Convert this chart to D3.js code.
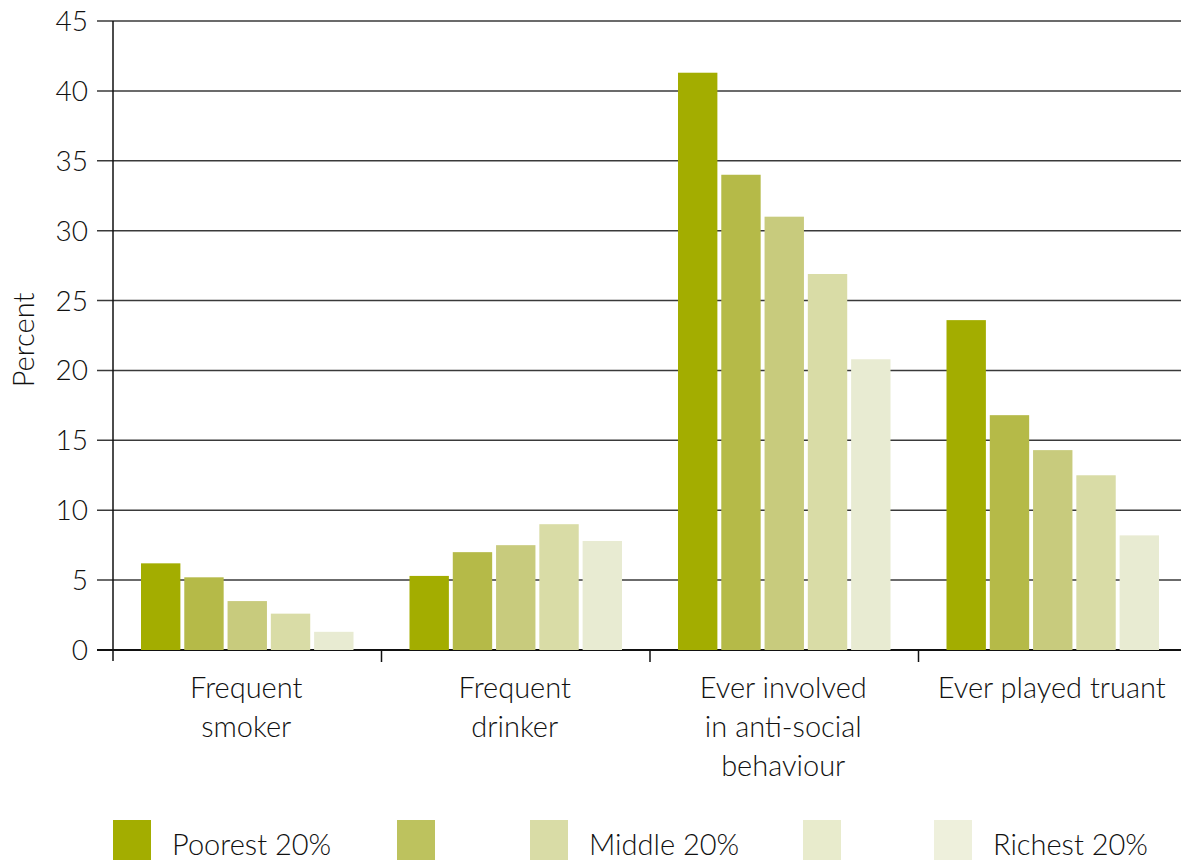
<!DOCTYPE html>
<html>
<head>
<meta charset="utf-8">
<script src="https://cdn.jsdelivr.net/npm/d3@7"></script>
<style>
  body { margin: 0; background: #fff; }
  svg text { font-family: Lato, "Open Sans", sans-serif; font-weight: 300; fill: #111; }
</style>
</head>
<body>
<svg id="chart" width="1181" height="862"></svg>
<script>
// categories, series and ticks
var categories = [["Frequent", "smoker"], ["Frequent", "drinker"], ["Ever involved", "in anti-social", "behaviour"], ["Ever played truant"]];
var seriesNames = ["Poorest 20%", "", "Middle 20%", "", "Richest 20%"];
var poorest = [6.2, 5.3, 41.3, 23.6];
var second = [5.2, 7.0, 34.0, 16.8];
var middle = [3.5, 7.5, 31.0, 14.3];
var fourth = [2.6, 9.0, 26.9, 12.5];
var richest = [1.3, 7.8, 20.8, 8.2];
var yTicks = [0, 5, 10, 15, 20, 25, 30, 35, 40, 45];

var series = [poorest, second, middle, fourth, richest];
var barColors = ["#a3ad00", "#b5ba48", "#c8cb7d", "#d9dca6", "#e8ebd2"];
var legendColors = ["#a3ad00", "#bdc25e", "#d9dca6", "#e8ebcc", "#eef0dc"];

var svg = d3.select("#chart");

var y = d3.scaleLinear().domain([0, 45]).range([650, 21]);
var x0 = d3.scaleBand().domain(d3.range(categories.length)).range([113, 1187]);
var x1 = d3.scaleBand().domain(d3.range(series.length)).range([28, x0.bandwidth() - 28]).paddingInner(0.09);

// gridlines (behind bars)
svg.append("g").selectAll("line")
    .data(yTicks)
    .enter().append("line")
    .attr("x1", 97)
    .attr("x2", 1181)
    .attr("y1", function(d) { return y(d); })
    .attr("y2", function(d) { return y(d); })
    .attr("stroke", function(d) { return d === 0 ? "#111" : "#3a3a3a"; })
    .attr("stroke-width", function(d) { return d === 0 ? 2 : 1.5; });

// tick labels
svg.append("g").selectAll("text")
    .data(yTicks)
    .enter().append("text")
    .attr("x", 88)
    .attr("y", function(d) { return y(d) + 10; })
    .attr("text-anchor", "end")
    .style("font-size", "28px")
    .text(function(d) { return d; });

// bars
var groups = svg.append("g").selectAll("g")
    .data(categories)
    .enter().append("g")
    .attr("transform", function(d, i) { return "translate(" + x0(i) + ",0)"; });

groups.selectAll("rect")
    .data(function(d, i) { return series.map(function(s, j) { return { j: j, v: s[i] }; }); })
    .enter().append("rect")
    .attr("x", function(d) { return x1(d.j); })
    .attr("width", x1.bandwidth())
    .attr("y", function(d) { return y(d.v); })
    .attr("height", function(d) { return y(0) - y(d.v); })
    .attr("fill", function(d) { return barColors[d.j]; });

// y axis line
svg.append("line")
    .attr("x1", 113).attr("x2", 113)
    .attr("y1", 21).attr("y2", 661)
    .attr("stroke", "#111").attr("stroke-width", 1.5);

// category ticks
svg.append("g").selectAll("line")
    .data(d3.range(1, categories.length))
    .enter().append("line")
    .attr("x1", function(d) { return x0(d); })
    .attr("x2", function(d) { return x0(d); })
    .attr("y1", 650).attr("y2", 662)
    .attr("stroke", "#111").attr("stroke-width", 1.5);

// category labels
groups.append("text")
    .attr("text-anchor", "middle")
    .style("font-size", "29px")
    .selectAll("tspan")
    .data(function(d) { return d; })
    .enter().append("tspan")
    .attr("x", x0.bandwidth() / 2 - 1)
    .attr("y", function(d, k) { return 698 + k * 39; })
    .text(function(d) { return d; });

// y title
svg.append("text")
    .attr("transform", "translate(34,340) rotate(-90)")
    .attr("text-anchor", "middle")
    .style("font-size", "29px")
    .text("Percent");

// legend
var legendX = [113, 397, 530, 803, 934];
var legend = svg.append("g").selectAll("g")
    .data(seriesNames)
    .enter().append("g")
    .attr("transform", function(d, i) { return "translate(" + legendX[i] + ",820)"; });

legend.append("rect")
    .attr("width", 38)
    .attr("height", 40)
    .attr("fill", function(d, i) { return legendColors[i]; });

legend.append("text")
    .attr("x", 59)
    .attr("y", 35)
    .style("font-size", "29px")
    .text(function(d) { return d; });
</script>
</body>
</html>
